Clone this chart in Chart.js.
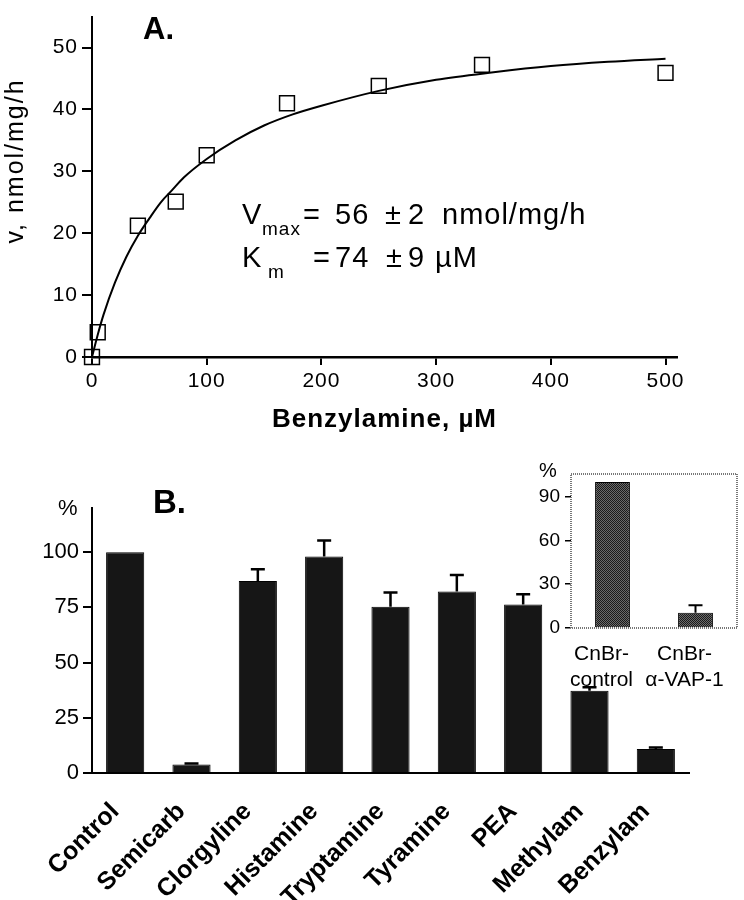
<!DOCTYPE html>
<html>
<head>
<meta charset="utf-8">
<script src="https://cdn.jsdelivr.net/npm/chart.js@4.4.1/dist/chart.umd.min.js"></script>
<style>
  html, body { margin: 0; padding: 0; background: #fff; }
  #wrap { position: relative; width: 744px; height: 900px; }
  canvas { position: absolute; }
  #chartA { left: 0; top: 0; }
  #chartB { left: 0; top: 440px; }
  #chartC { left: 520px; top: 440px; }
</style>
</head>
<body>
<div id="wrap">
  <canvas id="chartA" width="744" height="440"></canvas>
  <canvas id="chartB" width="744" height="460"></canvas>
  <canvas id="chartC" width="224" height="270"></canvas>
</div>
<script>
// panel A - benzylamine kinetics
const substrate = [0, 5, 40, 73, 100, 170, 250, 340, 500];
const rate = [0, 4, 21.2, 25.1, 32.6, 41, 43.8, 47.2, 45.9];
// fitted curve
const fitS = [0, 5, 10, 20, 30, 40, 50, 60, 70, 80, 100, 125, 150, 175, 200, 250, 300, 350, 400, 450, 500];
const fitV = [0, 3.6, 6.8, 12, 16.2, 19.6, 22.4, 25, 27, 29, 32, 35, 37.4, 39.2, 40.6, 43, 44.8, 46, 47, 47.7, 48.2];
const xTicksA = [0, 100, 200, 300, 400, 500];
const yTicksA = [0, 10, 20, 30, 40, 50];

// panel B - inhibitors / competing amines
const inhibitors = ['Control', 'Semicarb', 'Clorgyline', 'Histamine', 'Tryptamine', 'Tyramine', 'PEA', 'Methylam', 'Benzylam'];
const activity = [100, 3.8, 87, 98, 75.3, 82.2, 76.3, 37.3, 10.9];
const activityErr = [0, 0.5, 5.3, 7.3, 6.4, 7.5, 4.7, 1.5, 0.6];
const yTicksB = [0, 25, 50, 75, 100];

// inset - CnBr beads
const beads = [['CnBr-', 'control'], ['CnBr-', 'α-VAP-1']];
const boundActivity = [100, 10.5];
const boundErr = [0, 5.1];
const yTicksC = [0, 30, 60, 90];

const FONT = "'Liberation Sans', Arial, sans-serif";
Chart.defaults.font.family = FONT;
Chart.defaults.color = '#000';
Chart.defaults.animation = false;
Chart.defaults.plugins.legend.display = false;
Chart.defaults.plugins.tooltip.enabled = false;

function fixedTicks(list) {
    return scale => { scale.ticks = list.map(v => ({ value: v })); };
}

const textA = {
    id: 'textA',
    beforeDraw(chart) { chart.ctx.letterSpacing = '1px'; },
    afterDraw(chart) {
        const ctx = chart.ctx;
        ctx.save();
        ctx.fillStyle = '#000';
        ctx.textBaseline = 'alphabetic';
        ctx.letterSpacing = '0px';
        ctx.font = 'bold 31px ' + FONT;
        ctx.fillText('A.', 143, 39);

        ctx.letterSpacing = '1px';
        ctx.font = '29px ' + FONT;
        ctx.fillText('V', 242, 224);
        ctx.fillText('=', 303, 224);
        ctx.fillText('56', 335, 224);
        ctx.fillText('±', 385, 224);
        ctx.fillText('2', 408, 224);
        ctx.fillText('nmol/mg/h', 442, 224);
        ctx.fillText('K', 242, 267);
        ctx.fillText('=', 313, 267);
        ctx.fillText('74', 335, 267);
        ctx.fillText('±', 386, 267);
        ctx.fillText('9', 408, 267);
        ctx.fillText('µM', 435, 267);
        ctx.font = '19px ' + FONT;
        ctx.fillText('max', 262, 235);
        ctx.fillText('m', 268, 278);

        ctx.font = '25px ' + FONT;
        ctx.letterSpacing = '2px';
        ctx.translate(16, 161);
        ctx.rotate(-Math.PI / 2);
        ctx.textAlign = 'center';
        ctx.textBaseline = 'middle';
        ctx.fillText('v, nmol/mg/h', 0, 0);
        ctx.restore();
        ctx.letterSpacing = '0px';
    }
};

new Chart(document.getElementById('chartA'), {
    type: 'scatter',
    data: {
        datasets: [
            {
                data: fitS.map((s, i) => ({ x: s, y: fitV[i] })),
                showLine: true,
                borderColor: '#000',
                borderWidth: 2,
                pointRadius: 0,
                cubicInterpolationMode: 'monotone',
                clip: false
            },
            {
                data: substrate.map((s, i) => ({ x: s, y: rate[i] })),
                pointStyle: 'rect',
                pointRadius: 10.5,
                borderColor: '#000',
                borderWidth: 1.5,
                backgroundColor: 'rgba(0,0,0,0)',
                clip: false
            }
        ]
    },
    options: {
        responsive: false,
        layout: { padding: { top: 7, right: 67, left: 0, bottom: 0 } },
        scales: {
            x: {
                type: 'linear', min: 0, max: 510,
                afterBuildTicks: fixedTicks(xTicksA),
                afterFit: s => { s.height = 83; },
                border: { color: '#000', width: 2.5 },
                grid: { drawOnChartArea: false, tickLength: 8, color: '#000', lineWidth: 2 },
                ticks: { font: { size: 21 }, padding: 4, maxRotation: 0 },
                title: { display: true, text: 'Benzylamine, µM', font: { size: 26, weight: 'bold' }, padding: { top: 0, bottom: 5 } }
            },
            y: {
                min: 0, max: 55,
                afterBuildTicks: fixedTicks(yTicksA),
                afterFit: s => { s.width = 92; },
                border: { color: '#000', width: 2 },
                grid: { drawOnChartArea: false, tickLength: 10, color: '#000', lineWidth: 2 },
                ticks: { font: { size: 21 }, padding: 4 }
            }
        }
    },
    plugins: [textA]
});

const errorBars = {
    id: 'errorBars',
    afterDatasetsDraw(chart, args, opts) {
        const ctx = chart.ctx;
        const y = chart.scales.y;
        const values = chart.data.datasets[0].data;
        ctx.save();
        ctx.strokeStyle = '#000';
        ctx.lineWidth = opts.lineWidth;
        chart.getDatasetMeta(0).data.forEach((bar, i) => {
            const err = opts.errors[i];
            if (!err) return;
            const top = y.getPixelForValue(values[i] + err);
            ctx.beginPath();
            ctx.moveTo(bar.x, y.getPixelForValue(values[i]));
            ctx.lineTo(bar.x, top);
            ctx.moveTo(bar.x - opts.cap, top);
            ctx.lineTo(bar.x + opts.cap, top);
            ctx.stroke();
        });
        ctx.restore();
    }
};

const textB = {
    id: 'textB',
    afterDraw(chart) {
        const ctx = chart.ctx;
        ctx.save();
        ctx.fillStyle = '#000';
        ctx.font = '22px ' + FONT;
        ctx.fillText('%', 58, 75);
        ctx.font = 'bold 33px ' + FONT;
        ctx.fillText('B.', 153, 73);
        ctx.restore();
    }
};

new Chart(document.getElementById('chartB'), {
    type: 'bar',
    data: {
        labels: inhibitors,
        datasets: [{
            data: activity,
            backgroundColor: '#161616',
            borderColor: '#000',
            borderWidth: 1,
            barPercentage: 0.575,
            categoryPercentage: 1
        }]
    },
    options: {
        responsive: false,
        layout: { padding: { top: 68, right: 55, left: 0, bottom: 0 } },
        scales: {
            x: {
                afterFit: s => { s.height = 127; },
                border: { color: '#000', width: 2 },
                grid: { display: false },
                ticks: { autoSkip: false, maxRotation: 45, minRotation: 45, font: { size: 25, weight: 'bold' }, padding: 16, labelOffset: -10 }
            },
            y: {
                min: 0, max: 120,
                afterBuildTicks: fixedTicks(yTicksB),
                afterFit: s => { s.width = 92; },
                border: { color: '#000', width: 2 },
                grid: { drawOnChartArea: false, tickLength: 9, color: '#000', lineWidth: 2 },
                ticks: { font: { size: 22 }, padding: 4 }
            }
        },
        plugins: { errorBars: { errors: activityErr, cap: 7, lineWidth: 2.5 } }
    },
    plugins: [errorBars, textB]
});

// stippled grey for the inset bars
function stipple(a, b) {
    const c = document.createElement('canvas');
    c.width = 2; c.height = 2;
    const g = c.getContext('2d');
    g.fillStyle = a; g.fillRect(0, 0, 2, 2);
    g.fillStyle = b; g.fillRect(0, 0, 1, 1); g.fillRect(1, 1, 1, 1);
    return g.createPattern(c, 'repeat');
}

const insetBox = {
    id: 'insetBox',
    beforeDatasetsDraw(chart) {
        const { ctx, chartArea: a } = chart;
        ctx.save();
        ctx.strokeStyle = '#777';
        ctx.lineWidth = 2;
        ctx.setLineDash([1, 1]);
        ctx.strokeRect(a.left, a.top, a.right - a.left, a.bottom - a.top);
        ctx.restore();
    },
    afterDraw(chart) {
        const ctx = chart.ctx;
        ctx.save();
        ctx.fillStyle = '#000';
        ctx.font = '20px ' + FONT;
        ctx.fillText('%', 19, 37);
        ctx.restore();
    }
};

new Chart(document.getElementById('chartC'), {
    type: 'bar',
    data: {
        labels: beads,
        datasets: [{
            data: boundActivity,
            backgroundColor: stipple('#6a6a6a', '#1a1a1a'),
            borderColor: '#000',
            borderWidth: 1,
            barPercentage: 0.42,
            categoryPercentage: 1
        }]
    },
    options: {
        responsive: false,
        layout: { padding: { top: 34, right: 7, left: 0, bottom: 0 } },
        scales: {
            x: {
                afterFit: s => { s.height = 82; },
                border: { display: false },
                grid: { display: false },
                ticks: { autoSkip: false, maxRotation: 0, font: { size: 21 }, padding: 6, labelOffset: -11 }
            },
            y: {
                min: 0, max: 105.5,
                afterBuildTicks: fixedTicks(yTicksC),
                afterFit: s => { s.width = 51; },
                border: { display: false },
                grid: { drawOnChartArea: false, tickLength: 6, color: '#000', lineWidth: 1.5 },
                ticks: { font: { size: 19 }, padding: 5 }
            }
        },
        plugins: { errorBars: { errors: boundErr, cap: 7, lineWidth: 2 } }
    },
    plugins: [insetBox, errorBars]
});
</script>
</body>
</html>
